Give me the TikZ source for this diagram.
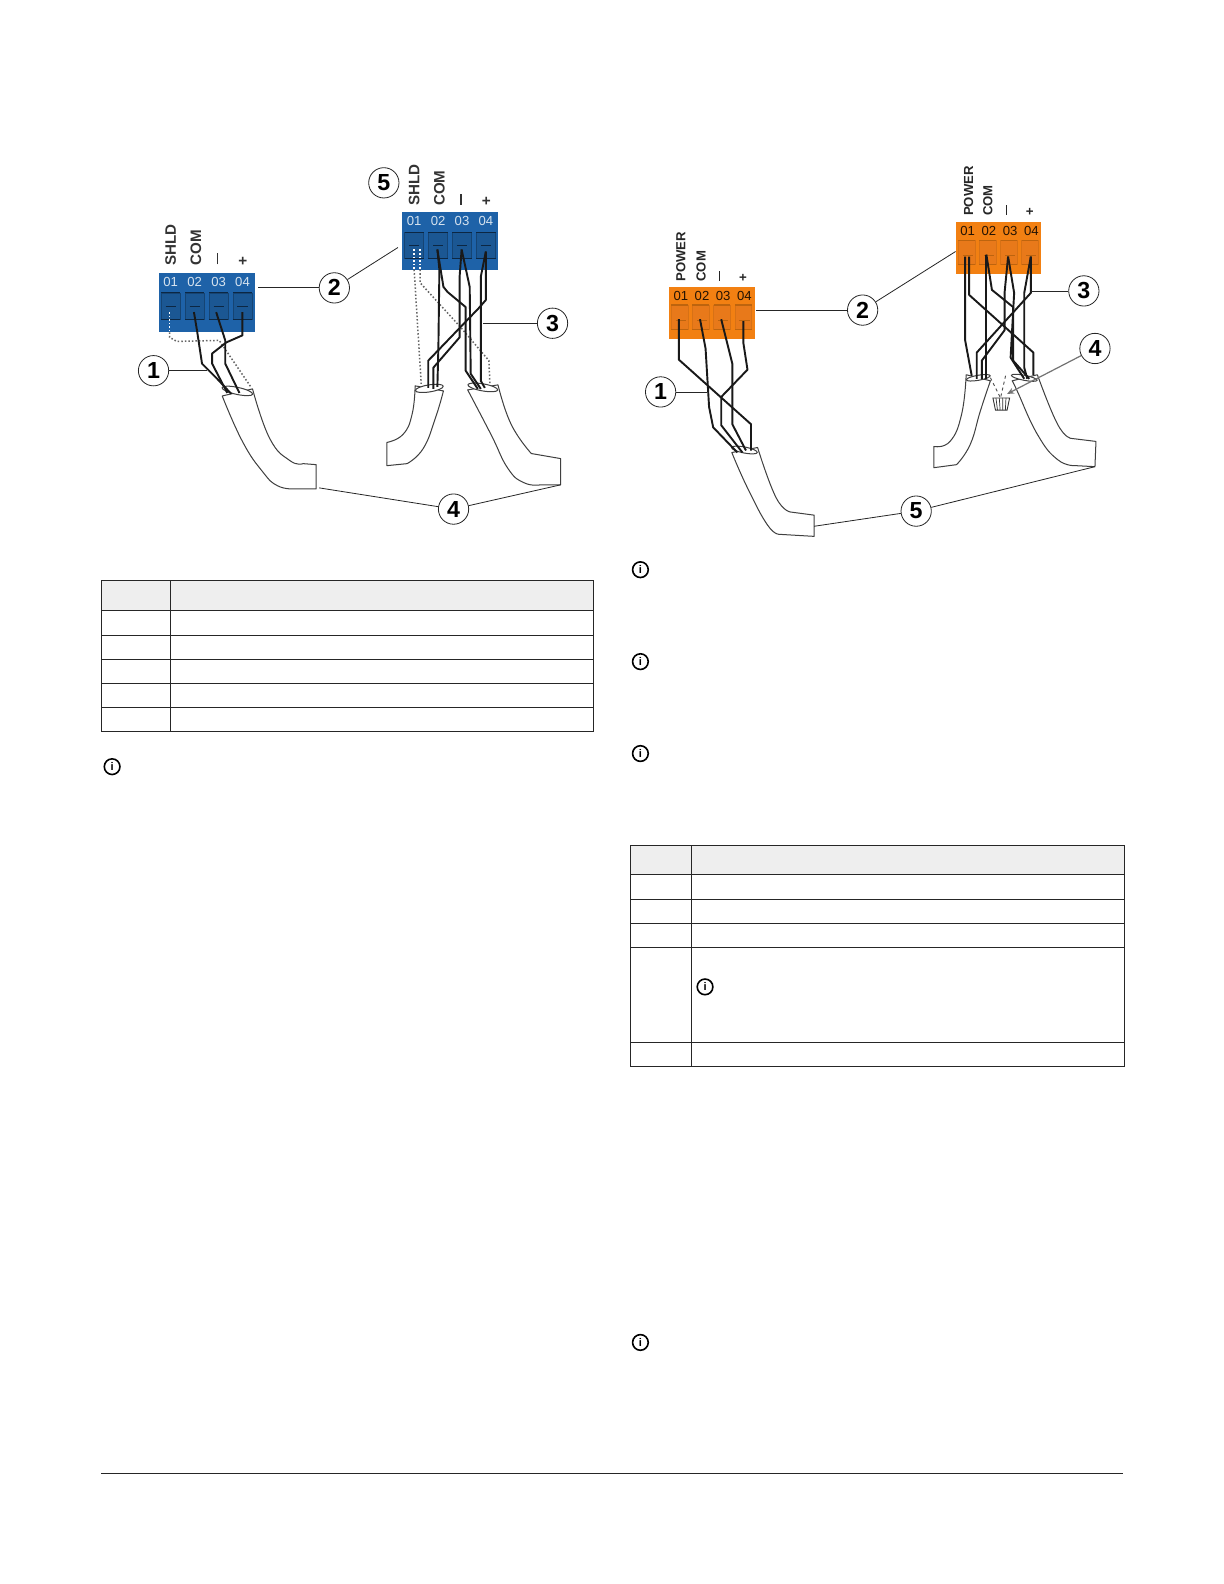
\documentclass[tikz,border=0pt]{standalone}
\usepackage{fontspec}
\setmainfont{Liberation Sans}
\usetikzlibrary{arrows.meta}
\definecolor{blueblock}{HTML}{1E62A8}
\definecolor{bluesocket}{HTML}{1B5793}
\definecolor{orangeblock}{HTML}{F28012}
\definecolor{orangesocket}{HTML}{E8791A}
\definecolor{headfill}{HTML}{EEEEEE}
\newcommand\minusbar[1]{\rule[3.2pt]{#1}{1.5pt}}
\tikzset{
  block/.style={rectangle, inner sep=0pt, anchor=north west, minimum width=#1},
  pinlabel/.style={inner sep=0pt, font=\fontsize{13}{13}\selectfont},
  collabelblue/.style={inner sep=0pt, rotate=90, anchor=west, text=black!80, font=\fontsize{15}{15}\selectfont\bfseries},
  collabelorange/.style={inner sep=0pt, rotate=90, anchor=west, text=black!85, font=\fontsize{13}{13}\selectfont\bfseries},
  callout/.style={circle, draw=black!85, fill=white, line width=.8pt, minimum size=30pt, inner sep=0pt, font=\fontsize{23}{23}\selectfont\bfseries},
  leader/.style={draw=black!85, line width=.8pt},
  wire/.style={draw=black!90, line width=1.9pt, line join=round},
  shieldwire/.style={draw=black!60, line width=1.5pt, dotted},
  cablewall/.style={draw=black!75, fill=white, line width=1pt, line join=round},
  infoicon/.style={circle, draw=black, line width=1.6pt, minimum size=15.5pt, inner sep=0pt, font=\fontsize{11}{11}\selectfont\bfseries},
  tablerule/.style={draw=black!85, line width=.9pt},
}
\begin{document}
\begin{tikzpicture}[x=1pt,y=-1pt]
\useasboundingbox (0,0) rectangle (1211.76,1568.16);

% terminal blocks
\foreach \nm/\x/\y/\w/\h/\bc/\sc/\tc/\lc/\dx/\sw/\sy/\sh in {
  bluea/157/270/95/59/blueblock/bluesocket/white!82!blueblock/black!60!blueblock/23.7/19/20/26,
  blueb/398/210/95/57/blueblock/bluesocket/white!82!blueblock/black!60!blueblock/23.7/19/20/26,
  orangea/662/284/85/52/orangeblock/orangesocket/black!85!orangeblock/black!22!orangeblock/21/16.5/18/24,
  orangeb/946/220/85/51/orangeblock/orangesocket/black!85!orangeblock/black!22!orangeblock/21/16.5/18/24} {
  \fill[\bc] (\x,\y) rectangle ++(\w,\h);
  \node[block=\w pt, minimum height=\h pt] (\nm) at (\x,\y) {};
  \foreach \i in {0,1,2,3} {
    \node[pinlabel, text=\tc] (\nm-l\i) at (\x+12+\i*\dx,\y+9) {0\the\numexpr\i+1\relax};
    \fill[\sc, draw=\lc!40!\sc, line width=.5pt] (\x+2.5+\i*\dx,\y+\sy) rectangle ++(\sw,\sh);
    \draw[\lc, line width=1.1pt] (\x+2.5+\i*\dx,\y+\sy) -- ++(\sw,0);
    \draw[\lc, line width=1.1pt] (\x+2.5+\i*\dx,\y+\sy+\sh) -- ++(\sw,0);
    \draw[\lc, line width=1.1pt] (\x+7+\i*\dx,\y+33) -- ++(10,0);
  }
}

% cables
\draw[cablewall] plot[smooth, tension=.8] coordinates {(220,392) (240,437) (260,467) (275,481) (292,484)} -- (313,484) -- (313,460) -- plot[smooth, tension=.8] coordinates {(300,459) (287,456) (267,434) (250,385)} -- cycle;
\draw[cablewall] (235,387) ellipse [x radius=15.5, y radius=3.5, rotate=-12];
\draw[cablewall] plot[smooth, tension=.8] coordinates {(411,382) (408,410) (399,430) (383,438)} -- (383,461) -- plot[smooth, tension=.8] coordinates {(403,459) (419,444) (431,414) (439,387)} -- cycle;
\draw[cablewall] (425,384.5) ellipse [x radius=14, y radius=3.5, rotate=9];
\draw[cablewall] plot[smooth, tension=.8] coordinates {(463,386) (486,430) (503,464) (519,478) (535,480)} -- (555,480) -- (555,454) -- plot[smooth, tension=.8] coordinates {(526,449) (506,420) (493,381)} -- cycle;
\draw[cablewall] (478,383.5) ellipse [x radius=15, y radius=3.5, rotate=-10];
\draw[cablewall] plot[smooth, tension=.8] coordinates {(724.5,448) (740,483) (760,520) (772,529)} -- (806,531) -- (806,510) -- plot[smooth, tension=.8] coordinates {(783.5,507) (768.5,493) (750,443)} -- cycle;
\draw[cablewall] (737,445.5) ellipse [x radius=13, y radius=3, rotate=-11];
\draw[cablewall] plot[smooth, tension=.8] coordinates {(956.5,371) (952,410) (940.5,437) (924.5,442)} -- (924.5,463) -- plot[smooth, tension=.8] coordinates {(947,460) (960.5,440) (970.5,407) (980.5,377)} -- cycle;
\draw[cablewall] (968.5,374) ellipse [x radius=12, y radius=2.5, rotate=10];
\draw[cablewall] plot[smooth, tension=.8] coordinates {(1002,377) (1007,387) (1027,430) (1047,455) (1065,461)} -- (1084,462) -- (1085,437) -- plot[smooth, tension=.8] coordinates {(1060.5,434) (1047,420) (1027,371)} -- cycle;
\draw[cablewall] (1014,374) ellipse [x radius=13, y radius=2.5, rotate=-11];

% shield wires
\draw[shieldwire] (168,329) -- (168,334) -- (175,338) -- (217,337) -- (249,384);
\draw[white, line width=1.5pt, dotted] (168,309) -- (168,329);
\draw[shieldwire] (410,267) -- (417,380);
\draw[shieldwire] (416,267) -- (416,280) -- (456,324) -- (484,357) -- (485,380);
\draw[white, line width=1.5pt, dotted] (410,247) -- (410,267);
\draw[white, line width=1.5pt, dotted] (416,247) -- (416,267);

% wires blue
\draw[wire] (192,309) -- (195,327) -- (200,360) -- (215,375) -- (229,390);
\draw[wire] (214,309) -- (223,337) -- (223,360) -- (237,389);
\draw[wire] (240,309) -- (240,332) -- (224,339) -- (210,350) -- (210,360) -- (225,389);
\draw[wire] (433,247) -- (435,267) -- (434,344) -- (433,383);
\draw[wire] (433,247) -- (439,284) -- (443,289) -- (461,304) -- (461,367) -- (473,385);
\draw[wire] (457,247) -- (455,274) -- (455,334) -- (429,364) -- (429,385);
\draw[wire] (457,247) -- (465,284) -- (466,370) -- (476,385);
\draw[wire] (481,249) -- (476,274) -- (476,377) -- (480,384);
\draw[wire] (481,249) -- (481,297) -- (474,305) -- (424,357) -- (424,384);

% wires orange
\draw[wire] (672,316) -- (672,356) -- (743.5,420) -- (743.5,446);
\draw[wire] (693,316) -- (698.5,345) -- (702,403) -- (706,423) -- (730,448);
\draw[wire] (714,316) -- (725,360) -- (725,420) -- (738.5,446);
\draw[wire] (736,318) -- (736,340) -- (740,366) -- (714,393) -- (714,421) -- (735,448);
\draw[wire] (955.5,254) -- (955.5,337) -- (962,372);
\draw[wire] (959.5,254) -- (959.5,292) -- (1023,349) -- (1023,371);
\draw[wire] (976.5,252) -- (976.5,375);
\draw[wire] (976.5,252) -- (982,287) -- (1003,304) -- (1003,357) -- (1019,375);
\draw[wire] (998,254) -- (994.5,290) -- (994.5,327) -- (972,357) -- (972,375);
\draw[wire] (998,254) -- (1004,290) -- (1000.5,354) -- (1014,375);
\draw[wire] (1020.5,254) -- (1014,290) -- (1014,364) -- (1017,375);
\draw[wire] (1020.5,254) -- (1020.5,290) -- (967,349) -- (967,375);

% wire nut
\draw[black!70, line width=.9pt, dashed] (980.5,374) -- (990.5,394);
\draw[black!70, line width=.9pt, dashed] (995.5,372) -- (990.5,394);
\draw[black!80, fill=white, line width=.9pt] (983,394) -- (999.5,394) -- (997,406) -- (985.5,406) -- cycle;
\foreach \i in {0,1,2,3} {
  \draw[black!80, line width=.7pt] (986+\i*3.3,394) -- (987.5+\i*2.6,406);
}

% column labels
\foreach \nm/\x/\y/\t in {a1/169/263/SHLD, a2/194/263/COM, a3/217/262/{\minusbar{11pt}}, a4/241/263/+,
  b1/410/204/SHLD, b2/435/204/COM, b3/458/203/{\minusbar{11pt}}, b4/482/204/+} {
  \node[collabelblue] (col\nm) at (\x,\y) {\t};
}
\foreach \nm/\x/\y/\t in {c1/674/279/POWER, c2/694/279/COM, c3/714/278/{\minusbar{9.5pt}}, c4/736/279/+,
  d1/959/214/POWER, d2/978/214/COM, d3/998/213/{\minusbar{9.5pt}}, d4/1020/214/+} {
  \node[collabelorange] (col\nm) at (\x,\y) {\t};
}

% callouts
\foreach \nm/\x/\y/\t in {ca1/152/367/1, ca2/331/285/2, ca3/547/320/3, ca4/449/504/4, ca5/380/181/5,
  cb1/654/388/1, cb2/854/307/2, cb3/1073/288/3, cb4/1084/345/4, cb5/907/506/5} {
  \node[callout] (\nm) at (\x,\y) {\t};
}

\coordinate (wa1) at (205,367);
\coordinate (wa3) at (478,320);
\coordinate (wb1) at (700,388);
\coordinate (wb3) at (1020.5,288);
\coordinate (ea4l) at (316,483);
\coordinate (ea4r) at (555,480);
\coordinate (eb5l) at (806,521);
\coordinate (eb5r) at (1084,462);
\coordinate (nut) at (997,390);
\coordinate (ba2a) at (255,285);
\coordinate (ba2b) at (394,245);
\coordinate (bb2a) at (748,307);
\coordinate (bb2b) at (946,249);

\draw[leader] (ca1) -- (wa1);
\draw[leader] (ca2) -- (ba2a);
\draw[leader] (ca2) -- (ba2b);
\draw[leader] (ca3) -- (wa3);
\draw[leader] (ca4) -- (ea4l);
\draw[leader] (ca4) -- (ea4r);
\draw[leader] (cb1) -- (wb1);
\draw[leader] (cb2) -- (bb2a);
\draw[leader] (cb2) -- (bb2b);
\draw[leader] (cb3) -- (wb3);
\draw[leader] (cb5) -- (eb5l);
\draw[leader] (cb5) -- (eb5r);
\draw[draw=black!55, line width=1.2pt, -{Stealth[length=7pt,width=6pt]}] (cb4) -- (nut);

% tables
\fill[headfill] (100,575) rectangle (588,604);
\foreach \y in {575,604,629,653,677,700,724} {
  \draw[tablerule] (100,\y) -- (588,\y);
}
\foreach \x in {100,169,588} {
  \draw[tablerule] (\x,575) -- (\x,724);
}
\fill[headfill] (624,837) rectangle (1113,866);
\foreach \y in {837,866,890,914,938,1032,1056} {
  \draw[tablerule] (624,\y) -- (1113,\y);
}
\foreach \x in {624,685,1113} {
  \draw[tablerule] (\x,837) -- (\x,1056);
}

% info icons
\foreach \nm/\x/\y in {ia/111/759, ib/634/564, ic/634/655, id/634/746, ie/698/977, if/634/1329} {
  \node[infoicon] (\nm) at (\x,\y) {i};
}

\draw[tablerule] (100,1459) -- (1112,1459);
\end{tikzpicture}
\end{document}
